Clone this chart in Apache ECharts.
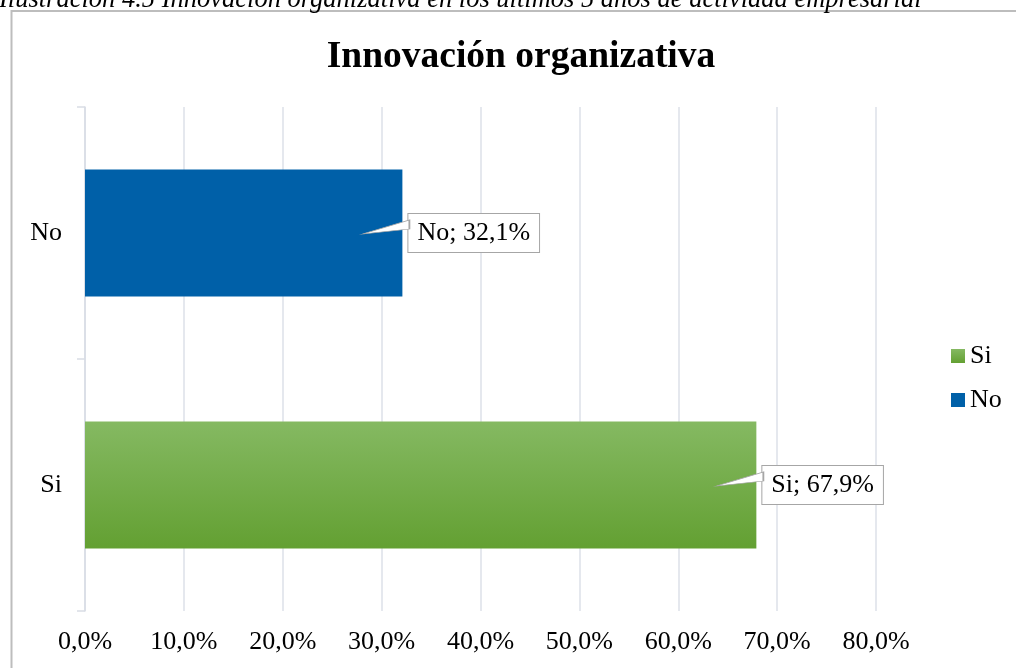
<!DOCTYPE html>
<html><head><meta charset="utf-8">
<script src="https://cdn.jsdelivr.net/npm/echarts@6/dist/echarts.min.js"></script>
<style>html,body{margin:0;padding:0;background:#fff}#c{width:1016px;height:668px}</style>
</head><body><div id="c"></div>
<script>
const categories = ['Si', 'No'];
const seriesNames = ['Si', 'No'];
const siValues = [67.9, null];
const noValues = [null, 32.1];
const xTicks = [0, 10, 20, 30, 40, 50, 60, 70, 80];
const captionText = 'Ilustración 4.5 Innovación organizativa en los últimos 5 años de actividad empresarial';
const titleText = 'Innovación organizativa';

const serif = '"Liberation Serif", "Times New Roman", serif';
const fmt = v => v.toFixed(1).replace('.', ',') + '%';

const labelCfg = {
  show: true, position: 'right', distance: 6,
  formatter: p => p.seriesName + '; ' + fmt(p.value),
  fontFamily: serif, fontSize: 26, color: '#000',
  backgroundColor: '#fff', borderColor: '#a6a6a6', borderWidth: 1,
  padding: [7, 9, 5, 9]
};
const wedge = (vals, cat) => {
  const i = categories.indexOf(cat);
  return {
    symbol: 'path://M47,0L0,14L47,9Z', symbolSize: [47, 14], symbolOffset: [-16.5, -6],
    itemStyle: { color: '#fff', borderColor: '#a6a6a6', borderWidth: 1 },
    label: { show: false }, silent: true,
    data: [{ coord: [vals[i], cat] }]
  };
};

const chart = echarts.init(document.getElementById('c'));
chart.setOption({
  animation: false,
  title: { text: titleText, left: 516, textAlign: 'center', top: 33,
    textStyle: { fontFamily: serif, fontSize: 37.5, fontWeight: 'bold', color: '#000' } },
  legend: { orient: 'vertical', left: 951, top: 343, padding: 0, itemWidth: 14, itemHeight: 14, itemGap: 18,
    data: seriesNames, icon: 'rect',
    textStyle: { fontFamily: serif, fontSize: 26, color: '#000', padding: [0, 0, 0, 0] } },
  grid: { left: 85, right: 140, top: 107, bottom: 57, containLabel: false },
  xAxis: { type: 'value', min: xTicks[0], max: xTicks[xTicks.length - 1], interval: 10,
    axisLine: { show: false }, axisTick: { show: false },
    splitLine: { lineStyle: { color: '#dde1e8', width: 1.5 } },
    axisLabel: { fontFamily: serif, fontSize: 26, color: '#000', margin: 18, formatter: v => fmt(v) } },
  yAxis: { type: 'category', data: categories,
    axisLine: { lineStyle: { color: '#d9dde5', width: 1.5 } },
    axisTick: { show: true, length: 8, lineStyle: { color: '#d9dde5', width: 1.5 } },
    axisLabel: { fontFamily: serif, fontSize: 26, color: '#000', margin: 23 } },
  series: [
    { name: 'Si', type: 'bar', stack: 's', barWidth: 127, data: siValues,
      itemStyle: { color: new echarts.graphic.LinearGradient(0, 0, 0, 1, [
        { offset: 0, color: '#85b962' }, { offset: 1, color: '#63a032' }]) },
      label: labelCfg, markPoint: wedge(siValues, 'Si') },
    { name: 'No', type: 'bar', stack: 's', barWidth: 127, data: noValues,
      itemStyle: { color: '#0060a8' },
      label: labelCfg, markPoint: wedge(noValues, 'No') }
  ],
  graphic: [
    { type: 'rect', shape: { x: 11.5, y: 11, width: 1100, height: 700 },
      style: { fill: 'none', stroke: '#bdbdbd', lineWidth: 2 }, silent: true, z: -1 },
    { type: 'text', left: -1, top: -13,
      style: { text: captionText, font: 'italic 26.5px ' + serif, fill: '#000' }, silent: true }
  ]
});
</script></body></html>
